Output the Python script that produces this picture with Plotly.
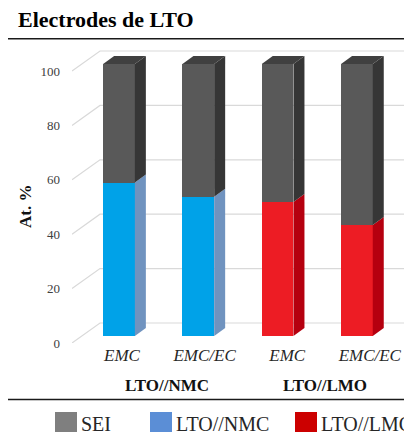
import plotly.graph_objects as go

# ---------------- data ----------------
categories = ["EMC", "EMC/EC", "EMC", "EMC/EC"]
groups = ["LTO//NMC", "LTO//LMO"]
group_index = [0, 0, 1, 1]
lto_values = [56.4, 51.2, 49.3, 40.8]
sei_values = [43.6, 48.8, 50.7, 59.2]
y_ticks = [0, 20, 40, 60, 80, 100]
legend_labels = ["SEI", "LTO//NMC", "LTO//LMC"]
title_text = "Electrodes de LTO"
y_title = "At. %"

# ---------------- style ----------------
SERIF = "Liberation Serif"
lto_front = ["#00A2E8", "#00A2E8", "#ED1C24", "#ED1C24"]
lto_side = ["#7093BF", "#7093BF", "#B5000F", "#B5000F"]
sei_front = "#595959"
sei_side = "#363636"
sei_top = "#404040"
legend_colors = ["#7F7F7F", "#5B8ED6", "#CC0000"]
grid_color = "#D9D9D9"

# page coordinates (the page body adds an 8px margin)
OFF = 8
PAGE_W, PAGE_H = 412, 432
W_FIG, H_FIG = PAGE_W - OFF, PAGE_H - OFF
PLOT_LEFT, PLOT_RIGHT, PLOT_TOP, PLOT_BOTTOM = 72, 412, 45, 343  # page px
ML = PLOT_LEFT - OFF
MR = PAGE_W - PLOT_RIGHT
MT = PLOT_TOP - OFF
MB = H_FIG - (PLOT_BOTTOM - OFF)
PLOT_W = PLOT_RIGHT - PLOT_LEFT
PLOT_H = PLOT_BOTTOM - PLOT_TOP
UX = 79.3   # px per x unit
UY = 2.72   # px per y unit
X0_PX = 119  # page px of first bar center
Y0_PX = 336  # page px of value 0 on bar front

def ux(px):
    return px / UX

def uy(px):
    return px / UY

x_min = (PLOT_LEFT - X0_PX) / UX
x_max = (PLOT_RIGHT - X0_PX) / UX
y_min = -(PLOT_BOTTOM - Y0_PX) / UY
y_max = (Y0_PX - PLOT_TOP) / UY

BW = 0.40
DX, DY = ux(11), uy(8)
WALL_FRONT_DY = uy(-7)
WALL_BACK_DX, WALL_BACK_DY = ux(28), uy(13)

xs = list(range(len(categories)))

def px_paper_x(px):
    return (px - PLOT_LEFT) / PLOT_W

def px_paper_y(py):
    return (PLOT_BOTTOM - py) / PLOT_H

fig = go.Figure()

# front faces
fig.add_trace(go.Bar(x=xs, y=lto_values, width=BW,
                     marker=dict(color=lto_front, line=dict(width=0)),
                     showlegend=False, hoverinfo="skip"))
fig.add_trace(go.Bar(x=xs, y=sei_values, width=BW,
                     marker=dict(color=sei_front, line=dict(width=0)),
                     showlegend=False, hoverinfo="skip"))

# side and top faces
for i, x in enumerate(xs):
    xr = x + BW / 2
    xl = x - BW / 2
    segs = [(0, lto_values[i], lto_side[i]),
            (lto_values[i], lto_values[i] + sei_values[i], sei_side)]
    for b, t, c in segs:
        fig.add_trace(go.Scatter(
            x=[xr, xr + DX, xr + DX, xr, xr],
            y=[b, b + DY, t + DY, t, b],
            fill="toself", fillcolor=c, mode="lines",
            line=dict(width=0, color=c), showlegend=False, hoverinfo="skip"))
    top = lto_values[i] + sei_values[i]
    fig.add_trace(go.Scatter(
        x=[xl, xl + DX, xr + DX, xr, xl],
        y=[top, top + DY, top + DY, top, top],
        fill="toself", fillcolor=sei_top, mode="lines",
        line=dict(width=0, color=sei_top), showlegend=False, hoverinfo="skip"))

shapes = []
# 3D gridlines (left wall + back wall)
for v in y_ticks:
    path = (f"M {x_min},{v + WALL_FRONT_DY} "
            f"L {x_min + WALL_BACK_DX},{v + WALL_BACK_DY} "
            f"L {x_max},{v + WALL_BACK_DY}")
    shapes.append(dict(type="path", path=path, xref="x", yref="y",
                       line=dict(color=grid_color, width=1.2), layer="below"))

# separator lines
for py in [38.7, 399.5]:
    shapes.append(dict(type="line", xref="paper", yref="paper",
                       x0=px_paper_x(8), x1=px_paper_x(412),
                       y0=px_paper_y(py), y1=px_paper_y(py),
                       line=dict(color="#1a1a1a", width=1.5)))

annotations = []
# legend (manual)
leg_sq_left = [55, 150, 295]
for j, lab in enumerate(legend_labels):
    shapes.append(dict(type="rect", xref="paper", yref="paper",
                       x0=px_paper_x(leg_sq_left[j]), x1=px_paper_x(leg_sq_left[j] + 22),
                       y0=px_paper_y(434), y1=px_paper_y(412),
                       fillcolor=legend_colors[j], line=dict(width=0)))
    annotations.append(dict(text=lab, xref="paper", yref="paper",
                            x=px_paper_x(leg_sq_left[j] + 24), y=px_paper_y(423.5),
                            xanchor="left", yanchor="middle", showarrow=False,
                            font=dict(family=SERIF, size=20, color="#262626")))

# group labels
for g, name in enumerate(groups):
    members = [xs[i] for i in range(len(xs)) if group_index[i] == g]
    gx = sum(members) / len(members) + ux(8)
    annotations.append(dict(text=f"<b>{name}</b>", xref="x", yref="paper",
                            x=gx, y=px_paper_y(385), xanchor="center", yanchor="middle",
                            showarrow=False,
                            font=dict(family=SERIF, size=17, color="#111111")))

# y title
annotations.append(dict(text=f"<b>{y_title}</b>", xref="paper", yref="paper",
                        x=px_paper_x(25), y=px_paper_y(207), textangle=-90,
                        xanchor="center", yanchor="middle", showarrow=False,
                        font=dict(family=SERIF, size=17, color="#111111")))

tick_positions = [x + ux(3 + 3.3 * x) for x in xs]

fig.update_layout(
    width=W_FIG, height=H_FIG,
    margin=dict(l=ML, r=MR, t=MT, b=MB),
    barmode="stack",
    plot_bgcolor="white", paper_bgcolor="white",
    title=dict(text=f"<b>{title_text}</b>", xref="container", yref="container",
               x=(18 - OFF) / W_FIG, y=1 - (19 - OFF) / H_FIG,
               xanchor="left", yanchor="middle",
               font=dict(family=SERIF, size=22, color="#000000")),
    xaxis=dict(range=[x_min, x_max], tickvals=tick_positions, ticktext=categories,
               showgrid=False, zeroline=False, showline=False, ticks="",
               tickfont=dict(family=SERIF, size=17, style="italic", color="#262626")),
    yaxis=dict(range=[y_min, y_max], tickvals=y_ticks, showgrid=False,
               zeroline=False, showline=False, ticks="",
               ticklabelshift=7, ticklabelstandoff=11,
               tickfont=dict(family=SERIF, size=13, color="#404040")),
    shapes=shapes, annotations=annotations,
)

fig.write_html("out.html")
